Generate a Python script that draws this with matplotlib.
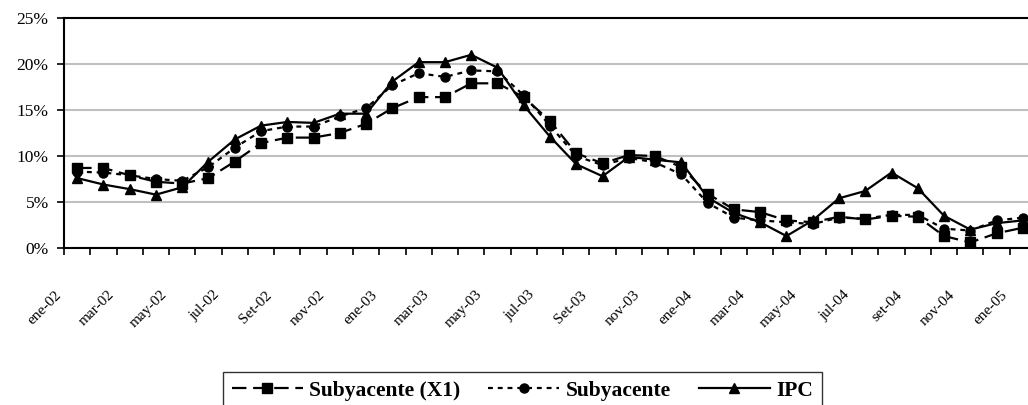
import matplotlib
matplotlib.use("Agg")
import matplotlib.pyplot as plt
import matplotlib.transforms as mtransforms

# monthly series, ene-02 .. ene-05 (% annual change)
x1 = [8.7, 8.7, 7.9, 7.2, 7.0, 7.6, 9.4, 11.4, 12.0, 12.0, 12.5, 13.5, 15.2,
      16.4, 16.4, 17.9, 17.9, 16.4, 13.8, 10.3, 9.2, 10.1, 10.0, 8.8, 5.9,
      4.2, 3.9, 3.0, 2.8, 3.4, 3.1, 3.5, 3.4, 1.3, 0.6, 1.6, 2.2]
subyacente = [8.3, 8.2, 7.9, 7.5, 7.3, 8.8, 10.9, 12.7, 13.2, 13.2, 14.3, 15.2,
              17.7, 19.0, 18.6, 19.3, 19.2, 16.6, 13.3, 10.0, 9.0, 9.8, 9.3,
              8.0, 4.9, 3.3, 3.0, 2.8, 2.6, 3.3, 3.2, 3.6, 3.6, 2.1, 1.9, 3.0, 3.3]
ipc = [7.6, 6.9, 6.4, 5.8, 6.6, 9.4, 11.8, 13.3, 13.7, 13.6, 14.6, 14.6, 18.1,
       20.2, 20.2, 21.0, 19.6, 15.5, 12.1, 9.1, 7.8, 9.9, 9.6, 9.3, 5.5, 3.8,
       2.8, 1.3, 3.0, 5.4, 6.2, 8.2, 6.5, 3.5, 2.0, 2.7, 3.0]

tick_labels = ['ene-02', 'mar-02', 'may-02', 'jul-02', 'Set-02', 'nov-02',
               'ene-03', 'mar-03', 'may-03', 'jul-03', 'Set-03', 'nov-03',
               'ene-04', 'mar-04', 'may-04', 'jul-04', 'set-04', 'nov-04',
               'ene-05']
y_ticks = [0, 5, 10, 15, 20, 25]

plt.rcParams['font.family'] = ['Liberation Serif', 'DejaVu Serif']

fig = plt.figure(figsize=(10.28, 4.05), dpi=100)
W, H = 1028, 405
ax = fig.add_axes([64 / W, 1 - 248 / H, (1036 - 64) / W, (248 - 18) / H])

n = len(ipc)
xs = list(range(n))

ax.plot(xs, x1, color='black', lw=1.6, linestyle=(0, (6.5, 3)), marker='s',
        ms=6.5, mfc='black', mec='black', label='Subyacente (X1)', zorder=3)
ax.plot(xs, subyacente, color='black', lw=1.6, linestyle=(0, (2.2, 2.2)),
        marker='o', ms=6.5, mfc='black', mec='black', label='Subyacente',
        zorder=4)
ax.plot(xs, ipc, color='black', lw=1.6, linestyle='-', marker='^', ms=7.5,
        mfc='black', mec='black', label='IPC', zorder=5)

ax.set_xlim(-0.5, n - 0.5)
ax.set_ylim(0, 25)

ax.set_yticks(y_ticks)
ax.set_yticklabels([f'{v}%' for v in y_ticks], fontsize=12.5)
ax.yaxis.grid(True, color='#c0c0c0', lw=1.5)
ax.set_axisbelow(True)
ax.tick_params(axis='y', direction='out', length=5, width=1.2, pad=6)

# tick marks at category borders, labels on every second month
ax.set_xticks([i - 0.5 for i in range(n + 1)], minor=True)
ax.set_xticks(xs[::2])
ax.set_xticklabels(tick_labels, fontsize=11, rotation=45, ha='right',
                   va='top', rotation_mode='anchor')
ax.tick_params(axis='x', which='minor', direction='out', length=5, width=1.2)
ax.tick_params(axis='x', which='major', length=0, pad=29)
offset = mtransforms.ScaledTranslation(-22 / 100, 0, fig.dpi_scale_trans)
for lbl in ax.get_xticklabels():
    lbl.set_transform(lbl.get_transform() + offset)

for sp in ax.spines.values():
    sp.set_color('black')
    sp.set_linewidth(1.5)

leg = fig.legend(loc='upper left', bbox_to_anchor=(223 / W, 1 - 372 / H),
                 bbox_transform=fig.transFigure, ncol=3, frameon=True,
                 fancybox=False, edgecolor='black', handlelength=3.3,
                 handletextpad=0.3, columnspacing=1.3, borderpad=0.4,
                 borderaxespad=0, prop={'weight': 'bold', 'size': 15.5})
leg.get_frame().set_linewidth(1.0)

fig.savefig('out.png', dpi=100)
